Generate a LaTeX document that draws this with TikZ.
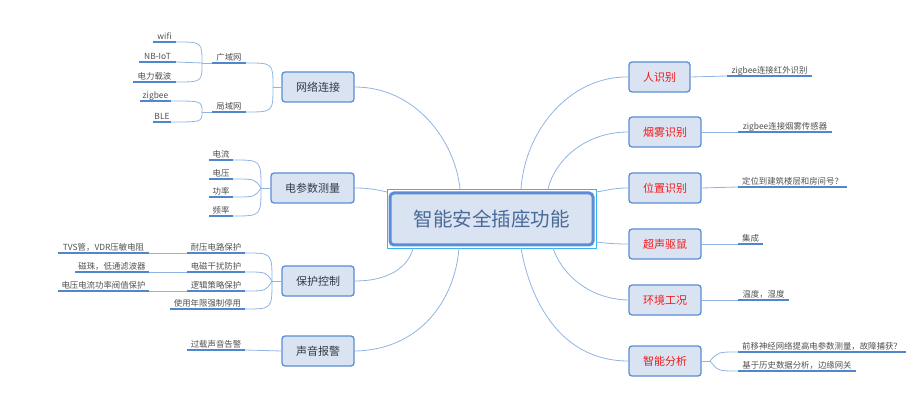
\documentclass[tikz,border=0pt]{standalone}
\usepackage{fontspec}
\setmainfont{Noto Sans CJK SC}
\definecolor{boxf}{HTML}{DAE3F1}
\definecolor{boxd}{HTML}{5A8DD6}
\definecolor{connc}{HTML}{8FB4E4}
\definecolor{ulc}{HTML}{4F86CC}
\definecolor{ltxt}{HTML}{333A46}
\definecolor{rtxt}{HTML}{F21A1A}
\definecolor{ctxt}{HTML}{4A6A98}
\definecolor{cyanf}{HTML}{37B4EE}
\definecolor{leaftxt}{HTML}{505050}
\tikzset{
  mainbox/.style={draw=boxd, fill=boxf, rounded corners=3pt, line width=1.3pt,
    minimum height=30, inner sep=0pt, font=\fontsize{11}{13}\selectfont, text=ltxt},
  rbox/.style={mainbox, text=rtxt},
  conn/.style={draw=connc, line width=0.8pt},
  ul/.style={draw=ulc, line width=2pt},
  leaf/.style={anchor=south, inner xsep=0pt, inner ysep=2.5pt, text depth=0pt,
    font=\fontsize{8.4}{9}\selectfont, text=leaftxt, minimum width=#1,
    append after command={(\tikzlastnode.south west) edge[ul] (\tikzlastnode.south east)}},
}
\begin{document}
\begin{tikzpicture}[x=1pt, y=-1pt]
\useasboundingbox (0,0) rectangle (916,414);

% central
\node[draw=cyanf, line width=0.8pt, minimum width=209, minimum height=59, inner sep=0pt] (cf) at (491.5,218.5) {};
\node[draw=boxd, fill=boxf, line width=3pt, rounded corners=4pt, minimum width=203, minimum height=52,
  inner sep=0pt, font=\fontsize{19.5}{22}\selectfont, text=ctxt] (c) at (491.5,219) {智能安全插座功能};

\coordinate (cN1) at (460,189);
\coordinate (cN2) at (521,189);
\coordinate (cN3) at (548,189);
\coordinate (cW1) at (387,192);
\coordinate (cE1) at (596,192);
\coordinate (cS1) at (413,248);
\coordinate (cS2) at (459,248);
\coordinate (cS3) at (521,248);
\coordinate (cS4) at (553,248);
\coordinate (cE2) at (596,242);

% main nodes left
\node[mainbox, minimum width=72] (wl) at (318,87) {网络连接};
\node[mainbox, minimum width=83] (dc) at (312.5,188) {电参数测量};
\node[mainbox, minimum width=72] (bh) at (318,281) {保护控制};
\node[mainbox, minimum width=72] (sy) at (318,351) {声音报警};
% main nodes right
\node[rbox, minimum width=61] (rs) at (659.5,77) {人识别};
\node[rbox, minimum width=72] (yw) at (665,132) {烟雾识别};
\node[rbox, minimum width=72] (wz) at (665,188) {位置识别};
\node[rbox, minimum width=72] (cs) at (665,244) {超声驱鼠};
\node[rbox, minimum width=72] (hj) at (665,300) {环境工况};
\node[rbox, minimum width=72] (zn) at (665,361) {智能分析};

% connectors to central
\draw[conn] (wl.east) .. controls (415,87) and (455,140) .. (cN1);
\draw[conn] (dc.east) .. controls (370,188) and (378,190) .. (cW1);
\draw[conn] (bh.east) .. controls (395,281) and (410,262) .. (cS1);
\draw[conn] (sy.east) .. controls (420,350) and (455,300) .. (cS2);
\draw[conn] (rs.west) .. controls (570,76) and (525,130) .. (cN2);
\draw[conn] (yw.west) .. controls (585,132) and (555,160) .. (cN3);
\draw[conn] (wz.west) .. controls (612,188) and (605,191) .. (cE1);
\draw[conn] (cs.west) .. controls (612,244) and (605,243) .. (cE2);
\draw[conn] (hj.west) .. controls (585,299) and (560,270) .. (cS4);
\draw[conn] (zn.west) .. controls (560,361) and (530,300) .. (cS3);

% leaves: network
\node[leaf=34] (gyw) at (229,63) {广域网};
\node[leaf=34] (jyw) at (229,112) {局域网};
\node[leaf=23] (wifi) at (164.5,42) {wifi};
\node[leaf=37] (nb) at (157.5,62) {NB-IoT};
\node[leaf=43] (dlzb) at (154.5,82) {电力载波};
\node[leaf=31] (zb) at (155.5,101) {zigbee};
\node[leaf=18] (ble) at (162,122) {BLE};
\coordinate (f1) at (273,87);
\coordinate (f2) at (202,63);
\coordinate (f3) at (202,112);
\draw[conn] (wl.west) -- (f1);
\draw[conn] (f1) .. controls (273,63) .. (gyw.south east);
\draw[conn] (f1) .. controls (273,112) .. (jyw.south east);
\draw[conn] (gyw.south west) -- (f2);
\draw[conn] (f2) .. controls (202,42) .. (wifi.south east);
\draw[conn] (f2) -- (nb.south east);
\draw[conn] (f2) .. controls (202,82) .. (dlzb.south east);
\draw[conn] (jyw.south west) -- (f3);
\draw[conn] (f3) .. controls (202,101) .. (zb.south east);
\draw[conn] (f3) .. controls (202,122) .. (ble.south east);

% leaves: electrical parameters
\node[leaf=24] (dl) at (221,160) {电流};
\node[leaf=24] (dy) at (221,179) {电压};
\node[leaf=24] (gl) at (221,197) {功率};
\node[leaf=24] (pl) at (221,216) {频率};
\coordinate (f4) at (261,188);
\draw[conn] (dc.west) -- (f4);
\draw[conn] (f4) .. controls (261,160) .. (dl.south east);
\draw[conn] (f4) .. controls (255,179) .. (dy.south east);
\draw[conn] (f4) .. controls (255,197) .. (gl.south east);
\draw[conn] (f4) .. controls (261,216) .. (pl.south east);

% leaves: protection
\node[leaf=58] (ny) at (216,253) {耐压电路保护};
\node[leaf=58] (dc2) at (216,272) {电磁干扰防护};
\node[leaf=58] (lj) at (216,291) {逻辑策略保护};
\node[leaf=75] (synx) at (207.5,309) {使用年限强制停用};
\node[leaf=91] (tvs) at (103.5,253) {TVS管，VDR压敏电阻};
\node[leaf=74] (cz) at (112,272) {磁珠，低通滤波器};
\node[leaf=91] (fz) at (103.5,291) {电压电流功率阀值保护};
\coordinate (f5) at (272,281);
\draw[conn] (bh.west) -- (f5);
\draw[conn] (f5) .. controls (272,253) .. (ny.south east);
\draw[conn] (f5) .. controls (266,272) .. (dc2.south east);
\draw[conn] (f5) .. controls (266,291) .. (lj.south east);
\draw[conn] (f5) .. controls (272,309) .. (synx.south east);
\draw[conn] (ny.south west) -- (tvs.south east);
\draw[conn] (dc2.south west) -- (cz.south east);
\draw[conn] (lj.south west) -- (fz.south east);

% leaves: sound alarm
\node[leaf=58] (gz) at (216,350) {过载声音告警};
\draw[conn] (sy.west) -- (gz.south east);

% leaves: right
\node[leaf=85] (r1) at (769.5,76) {zigbee连接红外识别};
\node[leaf=94] (r2) at (785,132) {zigbee连接烟雾传感器};
\node[leaf=109] (r3) at (792.5,187) {定位到建筑楼层和房间号？};
\node[leaf=25] (r4) at (750.5,244) {集成};
\node[leaf=51] (r5) at (763.5,300) {温度，湿度};
\node[leaf=168] (r6) at (822,352) {前移神经网络提高电参数测量，故障捕获？};
\node[leaf=118] (r7) at (797,371) {基于历史数据分析，边缘网关};
\draw[conn] (rs.east) -- (r1.south west);
\draw[conn] (yw.east) -- (r2.south west);
\draw[conn] (wz.east) -- (r3.south west);
\draw[conn] (cs.east) -- (r4.south west);
\draw[conn] (hj.east) -- (r5.south west);
\coordinate (f6) at (710,361);
\draw[conn] (zn.east) -- (f6);
\draw[conn] (f6) .. controls (718,352) .. (r6.south west);
\draw[conn] (f6) .. controls (718,371) .. (r7.south west);
\end{tikzpicture}
\end{document}
